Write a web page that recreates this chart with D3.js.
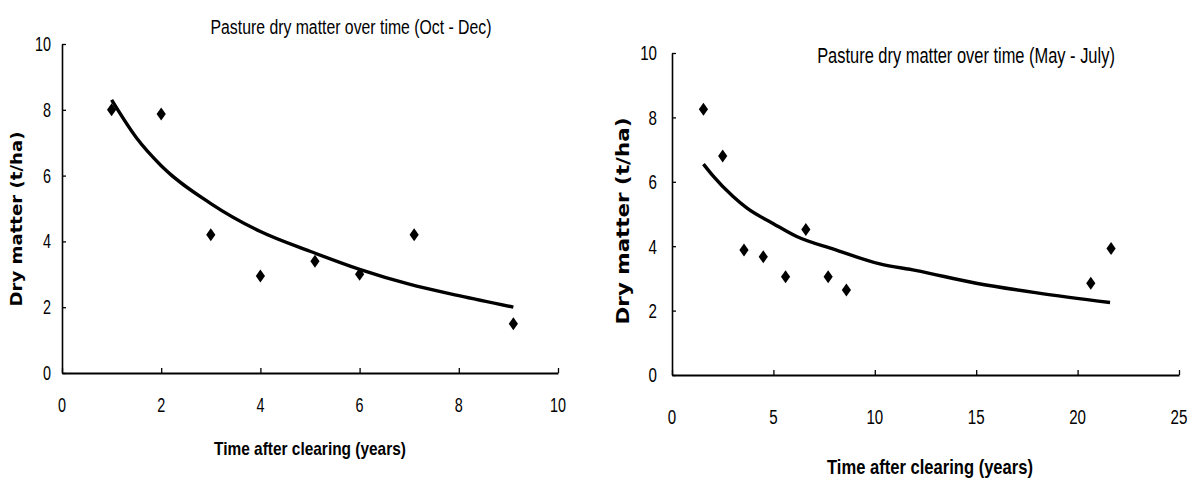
<!DOCTYPE html>
<html>
<head>
<meta charset="utf-8">
<script src="https://cdn.jsdelivr.net/npm/d3@7"></script>
<style>
  body { margin: 0; background: #fff; }
  svg { display: block; }
</style>
</head>
<body>
<svg id="chart" width="1193" height="480"></svg>
<script>
// Oct - Dec
const octDecYears = [1, 2, 3, 4, 5.1, 6, 7.1, 9.1];
const octDecDM = [8.0, 7.87, 4.2, 2.95, 3.4, 3.0, 4.2, 1.5];
const octDecTrendYears = [1, 1.5, 2, 3, 4, 5, 6, 7, 8, 9.1];
const octDecTrendDM = [8.3, 7.15, 6.3, 5.15, 4.3, 3.7, 3.15, 2.7, 2.35, 2.0];

// May - July
const mayJulYears = [1.55, 2.5, 3.55, 4.5, 5.6, 6.6, 7.7, 8.6, 20.65, 21.65];
const mayJulDM = [8.25, 6.8, 3.88, 3.67, 3.05, 4.52, 3.05, 2.64, 2.85, 3.93];
const mayJulTrendYears = [1.55, 2, 3, 3.7, 5, 6.15, 8, 10.25, 12, 15, 18, 21.6];
const mayJulTrendDM = [6.55, 6.2, 5.55, 5.18, 4.7, 4.3, 3.9, 3.45, 3.25, 2.85, 2.55, 2.25];

const octDecXTicks = [0, 2, 4, 6, 8, 10];
const mayJulXTicks = [0, 5, 10, 15, 20, 25];
const yTicks = [0, 2, 4, 6, 8, 10];

const svg = d3.select("#chart");

// text in these charts is squeezed sideways, so scale x after measuring
function addText(g, x, y, txt, o) {
    const t = g.append("text")
        .attr("text-anchor", o.anchor || "middle")
        .attr("dy", "0.35em")
        .style("font-family", o.family || "'Liberation Sans', Arial, sans-serif")
        .style("font-size", o.size + "px")
        .style("font-weight", o.bold ? "bold" : "normal")
        .attr("fill", "#000")
        .text(txt);
    let sx = o.sx || 1;
    if (o.len) sx = o.len / t.node().getComputedTextLength();
    t.attr("transform", `translate(${x},${y})` + (o.rotate ? " rotate(-90)" : "") + ` scale(${sx},1)`);
    return t;
}

function drawChart(cfg) {
    const x = d3.scaleLinear().domain(cfg.xDomain).range(cfg.xRange);
    const y = d3.scaleLinear().domain([0, 10]).range(cfg.yRange);
    const g = svg.append("g");

    g.append("g")
        .attr("transform", `translate(0,${cfg.yRange[0]})`)
        .call(d3.axisBottom(x).tickValues(cfg.xTicks).tickSizeInner(-5).tickSizeOuter(0).tickFormat(""))
        .call(a => a.select(".domain").attr("stroke-width", 2.2))
        .call(a => a.selectAll(".tick line").attr("stroke-width", 1.3));

    g.append("g")
        .attr("transform", `translate(${cfg.xRange[0]},0)`)
        .call(d3.axisLeft(y).tickValues(yTicks).tickSizeInner(-4).tickSizeOuter(0).tickFormat(""))
        .call(a => a.select(".domain").attr("stroke-width", 1.6))
        .call(a => a.selectAll(".tick line").attr("stroke-width", 1.3));

    cfg.xTicks.forEach(v => addText(g, x(v), cfg.xLabelY, v, { size: cfg.tickSize, sx: 0.72 }));
    yTicks.forEach(v => addText(g, cfg.yLabelX, y(v), v, { size: cfg.tickSize, sx: 0.72, anchor: "end" }));

    const trend = cfg.trendX.map((v, i) => [v, cfg.trendY[i]]);
    g.append("path")
        .datum(trend)
        .attr("fill", "none")
        .attr("stroke", "#000")
        .attr("stroke-width", 3.4)
        .attr("d", d3.line().x(d => x(d[0])).y(d => y(d[1])).curve(d3.curveMonotoneX));

    const pts = cfg.px.map((v, i) => [v, cfg.py[i]]);
    g.selectAll(".pt")
        .data(pts)
        .enter().append("path")
        .attr("class", "pt")
        .attr("transform", d => `translate(${x(d[0])},${y(d[1])})`)
        .attr("d", "M0,-6.5L4.6,0L0,6.5L-4.6,0Z")
        .attr("fill", "#000");

    addText(g, cfg.titleX, cfg.titleY, cfg.title, { size: cfg.titleSize, len: cfg.titleLen });
    addText(g, cfg.xTitleX, cfg.xTitleY, "Time after clearing (years)", { size: cfg.xTitleSize, bold: true, len: cfg.xTitleLen });
    addText(g, cfg.yTitleX, cfg.yTitleY, "Dry matter (t/ha)", {
        size: cfg.yTitleSize, bold: true, rotate: true, len: cfg.yTitleLen,
        family: "'DejaVu Sans', Verdana, sans-serif"
    });
}

drawChart({
    xDomain: [0, 10], xRange: [62, 558], yRange: [373, 44],
    xTicks: octDecXTicks, xLabelY: 405, yLabelX: 51, tickSize: 20,
    px: octDecYears, py: octDecDM, trendX: octDecTrendYears, trendY: octDecTrendDM,
    title: "Pasture dry matter over time (Oct - Dec)", titleX: 351, titleY: 27, titleSize: 21, titleLen: 281,
    xTitleX: 310, xTitleY: 448, xTitleSize: 19, xTitleLen: 192,
    yTitleX: 16, yTitleY: 219, yTitleSize: 16, yTitleLen: 175
});

drawChart({
    xDomain: [0, 25], xRange: [672, 1179], yRange: [375, 53],
    xTicks: mayJulXTicks, xLabelY: 417, yLabelX: 657, tickSize: 21,
    px: mayJulYears, py: mayJulDM, trendX: mayJulTrendYears, trendY: mayJulTrendDM,
    title: "Pasture dry matter over time (May - July)", titleX: 966, titleY: 55, titleSize: 22, titleLen: 298,
    xTitleX: 930, xTitleY: 467, xTitleSize: 20, xTitleLen: 206,
    yTitleX: 623, yTitleY: 221, yTitleSize: 17, yTitleLen: 207
});
</script>
</body>
</html>
